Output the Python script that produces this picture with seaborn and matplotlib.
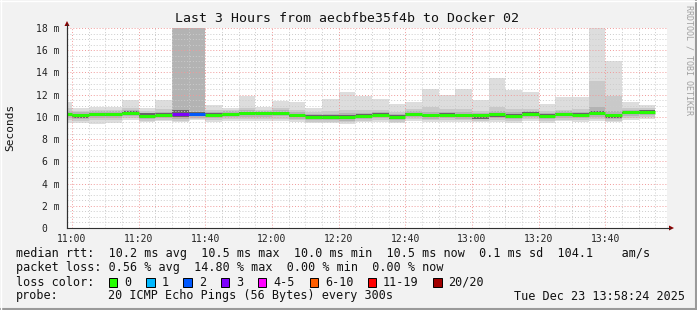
import matplotlib
matplotlib.use("Agg")
import numpy as np
import pandas as pd
import matplotlib.pyplot as plt
import matplotlib.dates as mdates
from matplotlib.patches import Rectangle, Polygon
from matplotlib.lines import Line2D
from matplotlib.ticker import MultipleLocator, FixedLocator, FixedFormatter
import seaborn as sns
from datetime import datetime, timedelta

# ---------------- data ----------------
bin_start = ["10:55", "11:00", "11:05", "11:10", "11:15", "11:20", "11:25", "11:30", "11:35",
             "11:40", "11:45", "11:50", "11:55", "12:00", "12:05", "12:10", "12:15", "12:20",
             "12:25", "12:30", "12:35", "12:40", "12:45", "12:50", "12:55", "13:00", "13:05",
             "13:10", "13:15", "13:20", "13:25", "13:30", "13:35", "13:40", "13:45", "13:50"]

# round trip times in ms (sorted-ping percentiles per 5 minute step)
rtt_median = [10.23, 10.15, 10.24, 10.24, 10.37, 10.08, 10.20, 10.28, 10.24, 10.20, 10.25, 10.32,
              10.33, 10.35, 10.15, 10.02, 10.00, 9.95, 10.10, 10.20, 10.00, 10.26, 10.14, 10.21,
              10.14, 10.13, 10.26, 10.10, 10.28, 10.06, 10.23, 10.20, 10.32, 10.15, 10.41, 10.45]
rtt_max = [11.3, 10.8, 10.9, 10.9, 11.5, 10.8, 11.5, 30.0, 30.0, 11.1, 10.8, 11.9,
           10.9, 11.4, 11.3, 10.8, 11.6, 12.2, 11.9, 11.6, 11.2, 11.3, 12.5, 12.0,
           12.5, 11.5, 13.5, 12.4, 12.2, 11.2, 11.8, 11.8, 30.0, 15.0, 11.3, 11.1]
rtt_p90 = [10.8, 10.5, 10.6, 10.6, 10.8, 10.5, 10.7, 30.0, 30.0, 10.6, 10.6, 10.8,
           10.6, 10.8, 10.6, 10.4, 10.5, 10.6, 10.6, 10.6, 10.4, 10.7, 10.9, 10.7,
           10.7, 10.5, 10.9, 10.7, 10.7, 10.5, 10.6, 10.7, 13.2, 11.9, 10.8, 10.8]
rtt_p75 = [10.55, 10.42, 10.50, 10.52, 10.62, 10.35, 10.48, 30.0, 30.0, 10.48, 10.50, 10.60,
           10.55, 10.62, 10.45, 10.28, 10.30, 10.32, 10.38, 10.45, 10.28, 10.52, 10.45, 10.48,
           10.42, 10.38, 10.55, 10.40, 10.55, 10.32, 10.50, 10.48, 10.90, 10.50, 10.65, 10.65]
rtt_p60 = [10.38, 10.28, 10.38, 10.38, 10.50, 10.33, 10.33, 10.60, 10.45, 10.33, 10.38, 10.45,
           10.46, 10.48, 10.28, 10.15, 10.13, 10.20, 10.23, 10.33, 10.13, 10.39, 10.27, 10.34,
           10.27, 10.26, 10.39, 10.23, 10.41, 10.30, 10.36, 10.33, 10.50, 10.28, 10.54, 10.58]
rtt_p40 = [10.05, 9.88, 10.08, 10.08, 10.20, 9.93, 10.03, 9.95, 10.04, 10.04, 10.09, 10.16,
           10.17, 10.19, 9.99, 9.86, 9.84, 9.79, 9.94, 10.04, 9.84, 10.10, 9.98, 10.05,
           9.98, 9.85, 9.98, 9.94, 10.12, 9.90, 10.07, 10.04, 10.16, 9.87, 10.25, 10.29]
rtt_p25 = [9.93, 9.80, 9.92, 9.94, 10.05, 9.80, 9.90, 9.80, 9.92, 9.90, 9.95, 10.00,
           10.02, 10.04, 9.85, 9.72, 9.72, 9.66, 9.80, 9.90, 9.72, 9.95, 9.85, 9.90,
           9.84, 9.78, 9.90, 9.80, 9.98, 9.78, 9.92, 9.90, 10.00, 9.80, 10.10, 10.15]
rtt_p10 = [9.75, 9.62, 9.72, 9.74, 9.88, 9.65, 9.72, 9.62, 9.80, 9.72, 9.78, 9.82,
           9.85, 9.85, 9.68, 9.58, 9.58, 9.52, 9.65, 9.72, 9.58, 9.78, 9.68, 9.72,
           9.68, 9.62, 9.72, 9.62, 9.80, 9.60, 9.75, 9.72, 9.82, 9.65, 9.92, 9.95]
rtt_min = [9.45, 9.45, 9.40, 9.45, 9.70, 9.55, 9.60, 9.50, 9.75, 9.55, 9.60, 9.65,
           9.65, 9.60, 9.50, 9.45, 9.45, 9.40, 9.50, 9.55, 9.45, 9.60, 9.55, 9.55,
           9.50, 9.50, 9.55, 9.45, 9.60, 9.45, 9.60, 9.55, 9.65, 9.55, 9.75, 9.80]
lost_pings = [0, 0, 0, 0, 0, 0, 0, 3, 2, 0, 0, 0, 0, 0, 0, 0, 0, 0,
              0, 0, 0, 0, 0, 0, 0, 0, 0, 0, 0, 0, 0, 0, 0, 0, 0, 0]

loss_labels = ["0", "1", "2", "3", "4-5", "6-10", "11-19", "20/20"]
loss_colors = ["#26ff00", "#00b8ff", "#0059ff", "#7e00ff", "#ff00ff", "#ff5e00", "#ff0000", "#a10000"]
loss_upper = [0, 1, 2, 3, 5, 10, 19, 20]

y_tick_values = [0, 2, 4, 6, 8, 10, 12, 14, 16, 18]
y_tick_labels = ["0  ", "2 m", "4 m", "6 m", "8 m", "10 m", "12 m", "14 m", "16 m", "18 m"]

title = "Last 3 Hours from aecbfbe35f4b to Docker 02"
row1 = "median rtt:  10.2 ms avg  10.5 ms max  10.0 ms min  10.5 ms now  0.1 ms sd  104.1    am/s"
row2 = "packet loss: 0.56 % avg  14.80 % max  0.00 % min  0.00 % now"
row3 = "loss color:"
row4a = "probe:"
row4b = "20 ICMP Echo Pings (56 Bytes) every 300s"
row4c = "Tue Dec 23 13:58:24 2025"

# ---------------- style ----------------
sns.set_style("white")
plt.rcParams["font.family"] = ["DejaVu Sans Mono", "DejaVu Sans"]

W, H = 697, 310
fig = plt.figure(figsize=(W / 100, H / 100), dpi=100, facecolor="#f2f2f2")


def fx(px):
    return px / W


def fy(py):
    return 1 - py / H


ax = fig.add_axes([fx(67), fy(228), 600 / W, 200 / H])
ax.set_facecolor("white")

day = datetime(2025, 12, 23)
starts = [day + timedelta(hours=int(s[:2]), minutes=int(s[3:])) for s in bin_start]
step = timedelta(minutes=5)
edges = mdates.date2num(starts + [starts[-1] + step])


def ext(a):
    return list(a) + [a[-1]]


layers = [(rtt_min, rtt_max, "#dddddd"),
          (rtt_p10, rtt_p90, "#c9c9c9"),
          (rtt_p25, rtt_p75, "#b3b3b3"),
          (rtt_p40, rtt_p60, "#666666")]
for lo, hi, col in layers:
    ax.fill_between(edges, ext(lo), ext(hi), step="post", color=col, linewidth=0, zorder=1)

# median line coloured by loss
def loss_class(n):
    for lab, up in zip(loss_labels, loss_upper):
        if n <= up:
            return lab
    return loss_labels[-1]


rows = []
for i, (m, n) in enumerate(zip(rtt_median, lost_pings)):
    c = loss_class(n)
    rows.append({"t": edges[i], "rtt": m, "seg": i, "loss": c})
    rows.append({"t": edges[i + 1], "rtt": m, "seg": i, "loss": c})
med = pd.DataFrame(rows)
sns.lineplot(data=med, x="t", y="rtt", units="seg", estimator=None, hue="loss",
             palette=dict(zip(loss_labels, loss_colors)), legend=False, linewidth=2.1,
             ax=ax, zorder=3, solid_capstyle="butt")

# axes limits / ticks
x0 = day + timedelta(hours=10, minutes=58, seconds=30)
ax.set_xlim(mdates.date2num(x0), mdates.date2num(x0 + timedelta(hours=3)))
ax.set_ylim(0, 18)
ax.xaxis.set_major_locator(mdates.MinuteLocator(byminute=[0, 20, 40]))
ax.xaxis.set_minor_locator(mdates.MinuteLocator(byminute=range(0, 60, 5)))
ax.xaxis.set_major_formatter(mdates.DateFormatter("%H:%M"))
ax.yaxis.set_major_locator(FixedLocator(y_tick_values))
ax.yaxis.set_major_formatter(FixedFormatter(y_tick_labels))
ax.yaxis.set_minor_locator(MultipleLocator(0.5))
ax.set_xlabel("")
ax.set_ylabel("")

ax.set_axisbelow(False)
ax.grid(True, which="minor", color="#cccccc", linestyle=(0, (1, 2)), linewidth=0.7)
ax.grid(True, which="major", color="#f09a9a", linestyle=(0, (1, 2)), linewidth=0.7)
ax.tick_params(axis="both", which="major", length=3, width=0.7, direction="inout",
               color="#404040", labelsize=7, labelcolor="#222222")
ax.tick_params(axis="y", which="major", pad=4)
ax.tick_params(axis="x", which="major", pad=3)
ax.tick_params(axis="both", which="minor", length=1.5, width=0.6, direction="inout", color="#606060")

for s in ["top", "right"]:
    ax.spines[s].set_visible(False)
for s in ["left", "bottom"]:
    ax.spines[s].set_color("#303030")
    ax.spines[s].set_linewidth(0.8)

# axis extensions with arrows
fig.add_artist(Line2D([fx(67), fx(67)], [fy(228), fy(24)], color="#303030", lw=0.8))
fig.add_artist(Line2D([fx(667), fx(670)], [fy(228), fy(228)], color="#303030", lw=0.8))
fig.add_artist(Polygon([[fx(64.5), fy(26)], [fx(69.5), fy(26)], [fx(67), fy(21)]],
                       closed=True, color="#8b0000", lw=0))
fig.add_artist(Polygon([[fx(669), fy(225.5)], [fx(669), fy(230.5)], [fx(674), fy(228)]],
                       closed=True, color="#8b0000", lw=0))

# texts
fig.text(fx(347), fy(19), title, ha="center", va="center", fontsize=9.5, color="#111111")
fig.text(fx(10), fy(127), "Seconds", rotation=90, ha="center", va="center", fontsize=8, color="#111111")
fig.text(fx(688.5), fy(60), "RRDTOOL / TOBI OETIKER", rotation=270, ha="center", va="center",
         fontsize=6, color="#a0a0a0")

fs = 8.45
fig.text(fx(16), fy(254), row1, ha="left", va="center", fontsize=fs, color="#111111")
fig.text(fx(16), fy(268), row2, ha="left", va="center", fontsize=fs, color="#111111")
fig.text(fx(16), fy(282), row3, ha="left", va="center", fontsize=fs, color="#111111")
box_x = [108.7, 146, 183.5, 220.6, 257.7, 309.6, 367.8, 433]
for bx, lab, col in zip(box_x, loss_labels, loss_colors):
    fig.add_artist(Rectangle((fx(bx), fy(286.5)), 8.5 / W, 9 / H, transform=fig.transFigure,
                             facecolor=col, edgecolor="#000000", lw=0.7))
    fig.text(fx(bx + 15.3), fy(282), lab, ha="left", va="center", fontsize=fs, color="#111111")
fig.text(fx(16), fy(296), row4a, ha="left", va="center", fontsize=fs, color="#111111")
fig.text(fx(108), fy(296), row4b, ha="left", va="center", fontsize=fs, color="#111111")
fig.text(fx(685), fy(296), row4c, ha="right", va="center", fontsize=fs, color="#111111")

# frame
fig.add_artist(Line2D([0, 1], [fy(309), fy(309)], color="#9a9a9a", lw=1.5))
fig.add_artist(Line2D([fx(696), fx(696)], [0, 1], color="#9a9a9a", lw=1.5))
fig.add_artist(Line2D([0, 1], [fy(0.5), fy(0.5)], color="#ffffff", lw=1))
fig.add_artist(Line2D([fx(0.5), fx(0.5)], [0, 1], color="#ffffff", lw=1))

fig.savefig("out.png", dpi=100, facecolor=fig.get_facecolor())
